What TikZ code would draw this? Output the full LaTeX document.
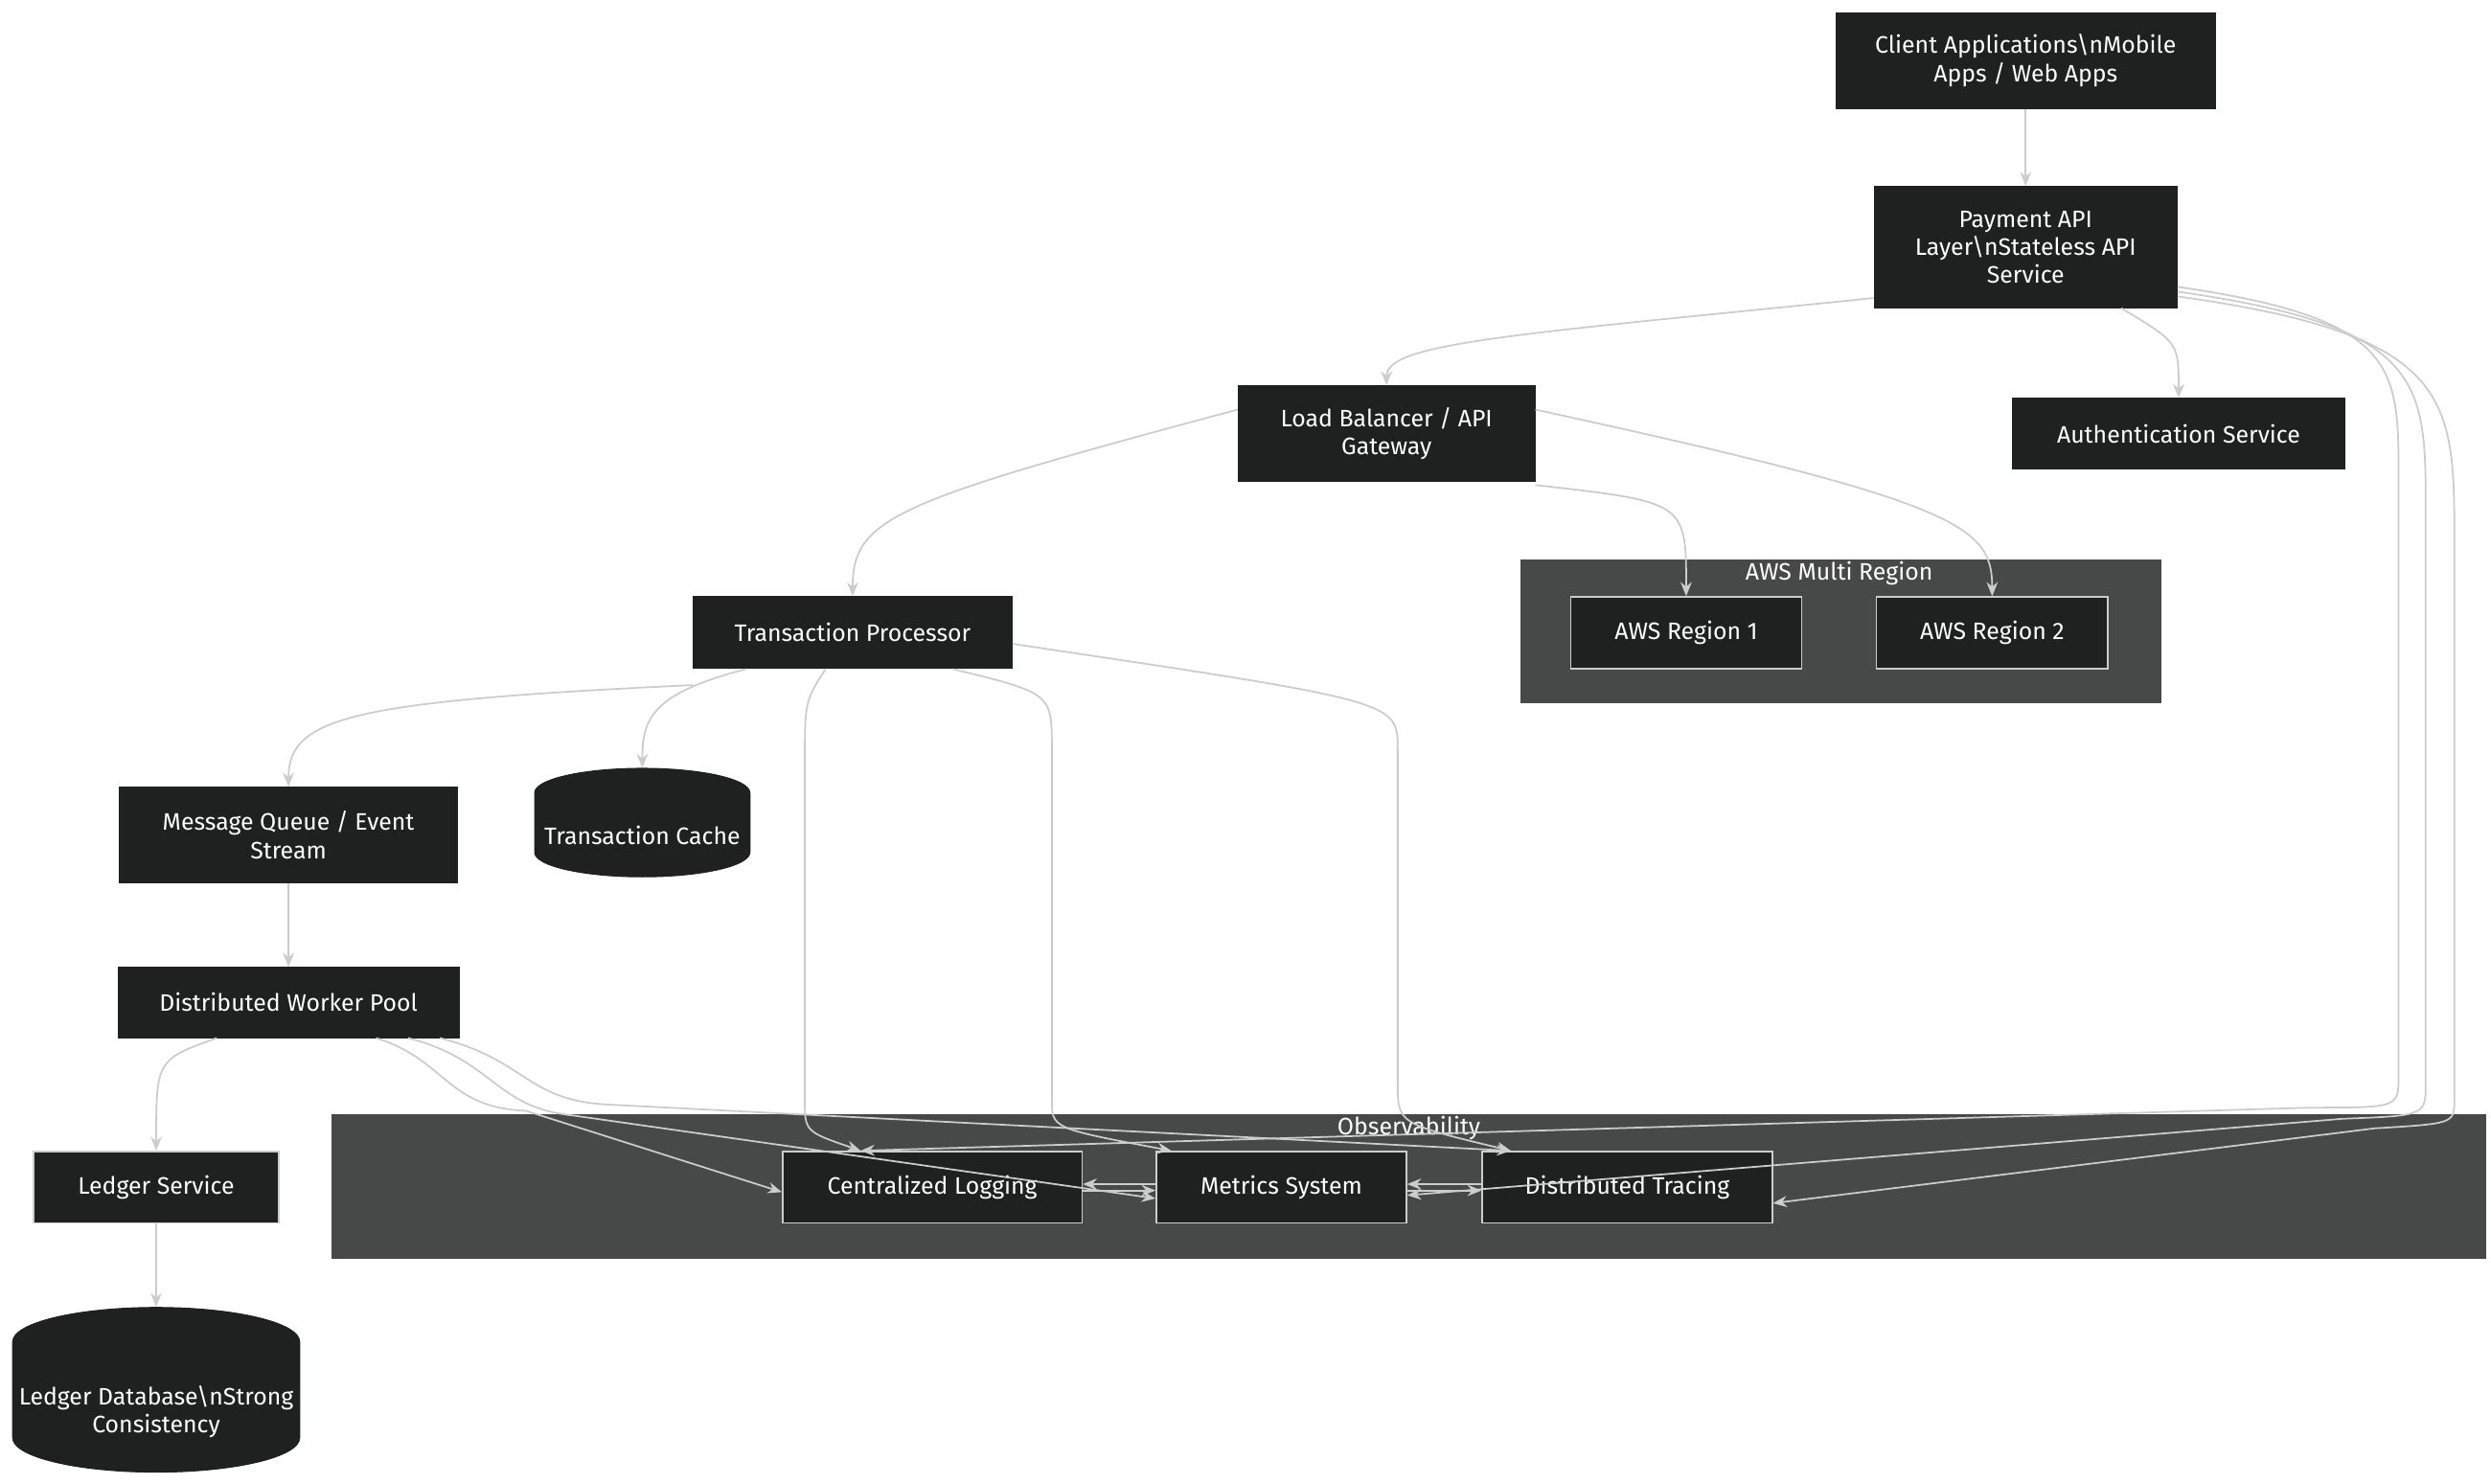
\documentclass[tikz,border=0pt]{standalone}
\usepackage{fontspec}
\setmainfont{Fira Sans}
\usetikzlibrary{arrows.meta,shapes.geometric,calc,backgrounds}
\definecolor{boxfill}{HTML}{1F2020}
\definecolor{clusterfill}{HTML}{474848}
\definecolor{edgegray}{HTML}{CCCCCC}
\tikzset{
  box/.style={draw=boxfill, fill=boxfill, text=white, align=center, inner sep=0pt,
    font=\fontsize{8.5}{10}\selectfont},
  framed/.style={box, draw=edgegray, line width=0.5pt},
  store/.style={box, cylinder, shape border rotate=90, aspect=0.25, draw=boxfill},
  cluster/.style={fill=clusterfill, draw=none},
  flow/.style={draw=edgegray, line width=0.6pt, -{Stealth[length=5pt,width=4pt]}},
}
\begin{document}
\begin{tikzpicture}[x=0.02cm, y=-0.02cm]
	\useasboundingbox[fill=white] (0,0) rectangle (1563,931);

	% Clusters
	\fill[cluster] (954,351) rectangle (1356,441);
	\node[text=white, font=\fontsize{8.5}{10}\selectfont] (awslabel) at (1154,360) {AWS Multi Region};
	\fill[cluster] (208,699) rectangle (1560,790);
	\node[text=white, font=\fontsize{8.5}{10}\selectfont] (obslabel) at (884,708) {Observability};

	% Nodes
	\node[box, minimum width=238*0.02cm, minimum height=60*0.02cm] (client) at (1271,38) {Client Applications\textbackslash nMobile\\Apps / Web Apps};
	\node[box, minimum width=190*0.02cm, minimum height=76*0.02cm] (payment) at (1271,155) {Payment API\\Layer\textbackslash nStateless API\\Service};
	\node[box, minimum width=186*0.02cm, minimum height=60*0.02cm] (lb) at (870,272) {Load Balancer / API\\Gateway};
	\node[box, minimum width=208*0.02cm, minimum height=44*0.02cm] (auth) at (1367,272) {Authentication Service};
	\node[framed, minimum width=145*0.02cm, minimum height=45*0.02cm] (region1) at (1058,397) {AWS Region 1};
	\node[framed, minimum width=145*0.02cm, minimum height=45*0.02cm] (region2) at (1250,397) {AWS Region 2};
	\node[box, minimum width=200*0.02cm, minimum height=45*0.02cm] (txproc) at (535,397) {Transaction Processor};
	\node[box, minimum width=212*0.02cm, minimum height=60*0.02cm] (queue) at (181,524) {Message Queue / Event\\Stream};
	\node[store, minimum width=135*0.02cm, minimum height=68*0.02cm] (cache) at (403,524) {Transaction Cache};
	\node[box, minimum width=214*0.02cm, minimum height=44*0.02cm] (workers) at (181,629) {Distributed Worker Pool};
	\node[framed, minimum width=154*0.02cm, minimum height=45*0.02cm] (ledger) at (98,745) {Ledger Service};
	\node[store, minimum width=180*0.02cm, minimum height=89*0.02cm] (ledgerdb) at (98,883) {\\Ledger Database\textbackslash nStrong\\Consistency};
	\node[framed, minimum width=188*0.02cm, minimum height=45*0.02cm] (logging) at (585,745) {Centralized Logging};
	\node[framed, minimum width=157*0.02cm, minimum height=45*0.02cm] (metrics) at (804,745) {Metrics System};
	\node[framed, minimum width=182*0.02cm, minimum height=45*0.02cm] (tracing) at (1021,745) {Distributed Tracing};

	% Edges
	\draw[flow] (client) -- (payment);
	\draw[flow] ([yshift=-32*0.02cm]payment.west) .. controls (950,210) and (870,215) .. (lb.north);
	\draw[flow] ([xshift=60*0.02cm]payment.south) .. controls (1367,215) .. (auth.north);
	\draw[flow] ([yshift=-25*0.02cm]payment.east) .. controls (1505,200) and (1505,230) .. (1505,300) -- (1505,675) .. controls (1505,695) .. (1450,695) -- ([xshift=-45*0.02cm]logging.north);
	\draw[flow] ([yshift=-28*0.02cm]payment.east) .. controls (1522,205) and (1522,240) .. (1522,320) -- (1522,680) .. controls (1522,700) .. (1470,702) -- ([yshift=-5*0.02cm]metrics.east);
	\draw[flow] ([yshift=-31*0.02cm]payment.east) .. controls (1540,210) and (1540,250) .. (1540,340) -- (1540,690) .. controls (1540,705) .. (1490,708) -- ([yshift=-10*0.02cm]tracing.east);

	\draw[flow] ([yshift=15*0.02cm]lb.west) .. controls (560,315) and (535,325) .. (txproc.north);
	\draw[flow] ([yshift=-2*0.02cm]lb.south east) .. controls (1058,315) .. (region1.north);
	\draw[flow] ([yshift=15*0.02cm]lb.east) .. controls (1230,315) and (1250,330) .. (region2.north);

	\draw[flow] ([yshift=-10*0.02cm]txproc.south west) .. controls (220,440) and (181,450) .. (queue.north);
	\draw[flow] ([xshift=-67*0.02cm]txproc.south) .. controls (410,435) and (403,450) .. (cache.top);
	\draw[flow] ([xshift=-17*0.02cm]txproc.south) .. controls (505,440) .. (505,480) -- (505,690) .. controls (505,710) .. ([xshift=-45*0.02cm]logging.north);
	\draw[flow] ([xshift=63*0.02cm]txproc.south) .. controls (660,435) .. (660,470) -- (660,690) .. controls (660,708) .. ([xshift=-69*0.02cm]metrics.north);
	\draw[flow] ([yshift=-7*0.02cm]txproc.east) .. controls (877,440) .. (877,470) -- (877,680) .. controls (877,705) .. ([xshift=-73*0.02cm]tracing.north);

	\draw[flow] (queue) -- (workers);
	\draw[flow] ([xshift=-45*0.02cm]workers.south) .. controls (98,665) .. (ledger.north);
	\draw[flow] ([xshift=55*0.02cm]workers.south) .. controls (280,665) and (280,695) .. (330,697) -- ([yshift=-3*0.02cm]logging.west);
	\draw[flow] ([xshift=75*0.02cm]workers.south) .. controls (310,665) and (310,695) .. (360,700) -- ([yshift=-7*0.02cm]metrics.west);
	\draw[flow] ([xshift=95*0.02cm]workers.south) .. controls (330,665) and (330,690) .. (380,693) -- ([xshift=-73*0.02cm]tracing.north);
	\draw[flow] (ledger) -- (ledgerdb.top);

	\draw[flow] ([yshift=-2*0.02cm]logging.east) -- ([yshift=-2*0.02cm]metrics.west);
	\draw[flow] ([yshift=2*0.02cm]metrics.west) -- ([yshift=2*0.02cm]logging.east);
	\draw[flow] ([yshift=-2*0.02cm]metrics.east) -- ([yshift=-2*0.02cm]tracing.west);
	\draw[flow] ([yshift=2*0.02cm]tracing.west) -- ([yshift=2*0.02cm]metrics.east);
\end{tikzpicture}
\end{document}
